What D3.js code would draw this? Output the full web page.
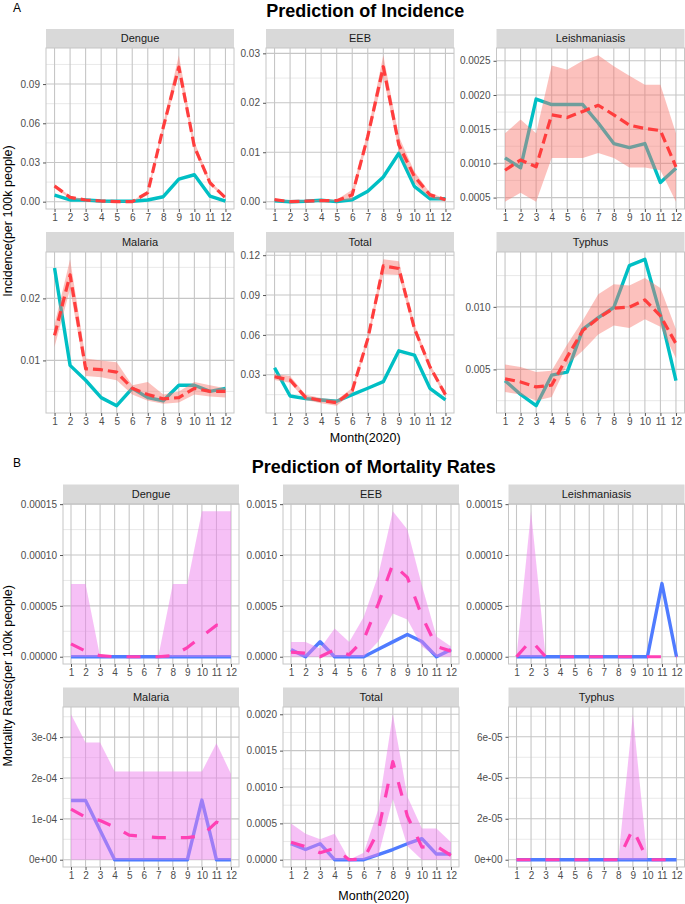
<!DOCTYPE html>
<html>
<head>
<meta charset="utf-8">
<script src="https://cdn.jsdelivr.net/npm/d3@7/dist/d3.min.js"></script>
<style>
body { margin: 0; background: #fff; }
svg { font-family: "Liberation Sans", Arial, sans-serif; }
</style>
</head>
<body>
<script>
var months = [1, 2, 3, 4, 5, 6, 7, 8, 9, 10, 11, 12];
var diseases = ["Dengue", "EEB", "Leishmaniasis", "Malaria", "Total", "Typhus"];

// incidence (panel A)
var incActual = {
  Dengue: [0.005, 0.0013, 0.0013, 0.0005, 0.0003, 0.0003, 0.0013, 0.0038, 0.0173, 0.0206, 0.0043, 0.0005],
  EEB: [0.0002, 0, 0.0001, 0.0003, 0, 0.0004, 0.0021, 0.005, 0.0098, 0.0031, 0.0006, 0.0006],
  Leishmaniasis: [0.00108, 0.000935, 0.00194, 0.00186, 0.00186, 0.00186, 0.00159, 0.00129, 0.00123, 0.00129, 0.00072, 0.00093],
  Malaria: [0.0249, 0.0092, 0.0068, 0.004, 0.0027, 0.0055, 0.004, 0.0035, 0.006, 0.006, 0.005, 0.0055],
  Total: [0.0353, 0.014, 0.012, 0.011, 0.010, 0.015, 0.0198, 0.0248, 0.048, 0.0448, 0.0198, 0.011],
  Typhus: [0.0041, 0.003, 0.0021, 0.00454, 0.00478, 0.0082, 0.00914, 0.00995, 0.0133, 0.0138, 0.0094, 0.0041]
};
var incPred = {
  Dengue: [0.012, 0.0033, 0.0013, 0.0005, 0, 0, 0.0069, 0.057, 0.103, 0.042, 0.0145, 0.003],
  EEB: [0.0004, 0, 0.0001, 0.0002, 0.0002, 0.0014, 0.0132, 0.0273, 0.0115, 0.0051, 0.0014, 0.0004],
  Leishmaniasis: [0.0009, 0.00105, 0.00095, 0.00171, 0.00167, 0.00176, 0.00185, 0.00171, 0.00156, 0.00151, 0.00148, 0.00095],
  Malaria: [0.01405, 0.0238, 0.00865, 0.0085, 0.0081, 0.0055, 0.0045, 0.0038, 0.004, 0.0055, 0.005, 0.005],
  Total: [0.0285, 0.026, 0.013, 0.0105, 0.009, 0.018, 0.057, 0.112, 0.110, 0.0649, 0.036, 0.015],
  Typhus: [0.00425, 0.004, 0.0036, 0.00374, 0.006, 0.0081, 0.0091, 0.0099, 0.00998, 0.01056, 0.00928, 0.00706]
};
var incLow = {
  Dengue: [0.0105, 0.0025, 0.0008, 0.0002, 0, 0, 0.005, 0.054, 0.098, 0.039, 0.013, 0.002],
  EEB: [0.0002, 0, 0, 0.0001, 0.0001, 0.0004, 0.0122, 0.0253, 0.0102, 0.0038, 0.0008, 0.0001],
  Leishmaniasis: [0.00044, 0.00057, 0.00044, 0.00108, 0.00108, 0.00108, 0.00115, 0.00108, 0.00094, 0.00094, 0.0009, 0.00044],
  Malaria: [0.0122, 0.0215, 0.0075, 0.0073, 0.0068, 0.0045, 0.0035, 0.003, 0.0032, 0.0045, 0.0042, 0.004],
  Total: [0.026, 0.024, 0.011, 0.0085, 0.0067, 0.016, 0.054, 0.1057, 0.105, 0.062, 0.034, 0.013],
  Typhus: [0.0032, 0.003, 0.0025, 0.0028, 0.0054, 0.0065, 0.0078, 0.0085, 0.0083, 0.009, 0.0084, 0.0059]
};
var incHigh = {
  Dengue: [0.0135, 0.0042, 0.0018, 0.0008, 0.0004, 0.0004, 0.0085, 0.060, 0.112, 0.046, 0.016, 0.004],
  EEB: [0.0006, 0.0002, 0.0003, 0.0004, 0.0004, 0.0024, 0.0142, 0.0296, 0.0132, 0.0061, 0.0018, 0.0006],
  Leishmaniasis: [0.00144, 0.00164, 0.00144, 0.00243, 0.00237, 0.0025, 0.00258, 0.00242, 0.00228, 0.00215, 0.00215, 0.00144],
  Malaria: [0.0158, 0.0263, 0.0103, 0.01, 0.0097, 0.006, 0.0065, 0.0045, 0.005, 0.0065, 0.006, 0.0055],
  Total: [0.0305, 0.029, 0.015, 0.0125, 0.011, 0.020, 0.060, 0.1169, 0.1155, 0.068, 0.038, 0.017],
  Typhus: [0.0054, 0.0052, 0.0048, 0.0049, 0.007, 0.0089, 0.011, 0.0118, 0.0117, 0.0123, 0.0115, 0.0082]
};
var incTicks = {
  Dengue: ["0.00", "0.03", "0.06", "0.09"],
  EEB: ["0.00", "0.01", "0.02", "0.03"],
  Leishmaniasis: ["0.0005", "0.0010", "0.0015", "0.0020", "0.0025"],
  Malaria: ["0.01", "0.02"],
  Total: ["0.03", "0.06", "0.09", "0.12"],
  Typhus: ["0.005", "0.010"]
};

// mortality (panel B)
var mortActual = {
  Dengue: [0, 0, 0, 0, 0, 0, 0, 0, 0, 0, 0, 0],
  EEB: [7e-5, 0, 1.47e-4, 0, 0, 0, 7.3e-5, 1.46e-4, 2.19e-4, 1.5e-4, 0, 7e-5],
  Leishmaniasis: [0, 0, 0, 0, 0, 0, 0, 0, 0, 0, 7.19e-5, 0],
  Malaria: [1.45e-4, 1.45e-4, 7.2e-5, 0, 0, 0, 0, 0, 0, 1.46e-4, 0, 0],
  Total: [2.2e-4, 1.4e-4, 2.2e-4, 0, 0, 0, 7e-5, 1.4e-4, 2.2e-4, 2.9e-4, 7.8e-5, 7.8e-5],
  Typhus: [0, 0, 0, 0, 0, 0, 0, 0, 0, 0, 0, 0]
};
var mortPred = {
  Dengue: [1.27e-5, 5.5e-6, 1e-6, 0, 0, 0, 0, 1e-6, 9e-6, 2.0e-5, 3.1e-5, 2.9e-5],
  EEB: [4.5e-5, 3.5e-5, 0, 7e-5, 2e-5, 1.7e-4, 5.2e-4, 9.1e-4, 7.8e-4, 4e-4, 1e-4, 5.5e-5],
  Leishmaniasis: [0, 1.6e-5, 0, 0, 0, 0, 0, 0, 0, 0, 0, 0],
  Malaria: [1.24e-4, 1.04e-4, 9.6e-5, 8e-5, 6e-5, 5.7e-5, 5.4e-5, 5.4e-5, 5.4e-5, 5.9e-5, 9.2e-5, 7.8e-5],
  Total: [2.4e-4, 1.8e-4, 9.6e-5, 1.55e-4, 0, 1e-5, 3.9e-4, 1.35e-3, 6e-4, 1.74e-4, 1.87e-4, 6e-5],
  Typhus: [0, 0, 0, 0, 0, 0, 0, 0, 1.5e-5, 0, 0, 0]
};
var mortLow = {
  Dengue: [0, 0, 0, 0, 0, 0, 0, 0, 0, 0, 0, 0],
  EEB: [0, 0, 0, 0, 0, 0, 1.5e-4, 4.25e-4, 3.66e-4, 1e-4, 0, 0],
  Leishmaniasis: [0, 0, 0, 0, 0, 0, 0, 0, 0, 0, 0, 0],
  Malaria: [0, 0, 0, 0, 0, 0, 0, 0, 0, 0, 0, 0],
  Total: [0, 0, 0, 0, 0, 0, 5e-5, 8.4e-4, 1.9e-4, 0, 0, 0],
  Typhus: [0, 0, 0, 0, 0, 0, 0, 0, 0, 0, 0, 0]
};
var mortHigh = {
  Dengue: [7.16e-5, 7.16e-5, 0, 0, 0, 0, 0, 7.16e-5, 7.16e-5, 1.43e-4, 1.43e-4, 1.43e-4],
  EEB: [1.44e-4, 1.44e-4, 8e-5, 2.78e-4, 1.44e-4, 3.9e-4, 8e-4, 1.43e-3, 1.25e-3, 7e-4, 2e-4, 1e-4],
  Leishmaniasis: [0, 1.43e-4, 0, 0, 0, 0, 0, 0, 0, 0, 0, 0],
  Malaria: [3.56e-4, 2.87e-4, 2.87e-4, 2.16e-4, 2.16e-4, 2.16e-4, 2.16e-4, 2.16e-4, 2.16e-4, 2.16e-4, 2.85e-4, 2.1e-4],
  Total: [4.98e-4, 3.56e-4, 2.8e-4, 3.56e-4, 0, 9.6e-5, 6.9e-4, 2.0e-3, 8.7e-4, 4.3e-4, 4.3e-4, 2.4e-4],
  Typhus: [0, 0, 0, 0, 0, 0, 0, 0, 7.1e-5, 0, 0, 0]
};
var mortTicks = {
  Dengue: ["0.00000", "0.00005", "0.00010", "0.00015"],
  EEB: ["0.0000", "0.0005", "0.0010", "0.0015"],
  Leishmaniasis: ["0.00000", "0.00005", "0.00010", "0.00015"],
  Malaria: ["0e+00", "1e-04", "2e-04", "3e-04"],
  Total: ["0.0000", "0.0005", "0.0010", "0.0015", "0.0020"],
  Typhus: ["0e+00", "2e-05", "4e-05", "6e-05"]
};

var svg = d3.select("body").append("svg").attr("width", 685).attr("height", 904);

drawSection({
  tag: "A", title: "Prediction of Incidence", tagY: 12, titleY: 17,
  lefts: [46, 266, 496.5], width: 188,
  rows: [{strip: 29, top: 48, bottom: 209}, {strip: 232, top: 252, bottom: 413}],
  xTitleY: 442, yTitle: "Incidence(per 100k people)",
  actual: incActual, pred: incPred, low: incLow, high: incHigh, ticks: incTicks,
  actualColor: "#00BFC4", predColor: "#FF3D3D", bandColor: "#F8766D", bandOpacity: 0.45, dash: "10,5"
});

drawSection({
  tag: "B", title: "Prediction of Mortality Rates", tagY: 467, titleY: 473,
  lefts: [63, 283, 508.5], width: 176,
  rows: [{strip: 484.5, top: 504, bottom: 664}, {strip: 687.5, top: 707, bottom: 867}],
  xTitleY: 900, yTitle: "Mortality Rates(per 100k people)",
  actual: mortActual, pred: mortPred, low: mortLow, high: mortHigh, ticks: mortTicks,
  actualColor: "#4F7BFF", predColor: "#FF40B4", bandColor: "#EE82EE", bandOpacity: 0.5, dash: "14,15"
});

function drawSection(s) {
  var g = svg.append("g");
  var cx = (s.lefts[0] + s.lefts[2] + s.width) / 2;

  g.append("text").attr("x", 13).attr("y", s.tagY)
    .style("font-size", "12px").text(s.tag);
  g.append("text").attr("x", cx).attr("y", s.titleY)
    .attr("text-anchor", "middle")
    .style("font-size", "18px").style("font-weight", "bold")
    .text(s.title);

  diseases.forEach(function(name, i) {
    var row = s.rows[Math.floor(i / 3)], left = s.lefts[i % 3];
    var p = g.append("g");

    var x = d3.scaleLinear().domain([0.45, 12.55]).range([left, left + s.width]);
    var all = [].concat(s.actual[name], s.pred[name], s.low[name], s.high[name]);
    var ext = d3.extent(all), pad = (ext[1] - ext[0]) * 0.05;
    var y = d3.scaleLinear().domain([ext[0] - pad, ext[1] + pad]).range([row.bottom, row.top]);

    var labels = s.ticks[name], vals = labels.map(Number);
    var stepv = vals[1] - vals[0], minor = [];
    for (var k = -1; k < vals.length; k++) {
      var m = vals[0] + (k + 0.5) * stepv;
      if (m > y.domain()[0] && m < y.domain()[1]) minor.push(m);
    }

    // strip
    p.append("rect").attr("x", left).attr("y", row.strip)
      .attr("width", s.width).attr("height", row.top - row.strip)
      .attr("fill", "#D9D9D9");
    p.append("text").attr("x", left + s.width / 2).attr("y", (row.strip + row.top) / 2)
      .attr("dy", "0.35em").attr("text-anchor", "middle")
      .style("font-size", "11px").attr("fill", "#1A1A1A").text(name);

    // panel + grid
    p.append("rect").attr("x", left).attr("y", row.top)
      .attr("width", s.width).attr("height", row.bottom - row.top)
      .attr("fill", "#fff");
    p.selectAll(".minor").data(minor).enter().append("line")
      .attr("x1", left).attr("x2", left + s.width)
      .attr("y1", function(d) { return y(d); }).attr("y2", function(d) { return y(d); })
      .attr("stroke", "#E3E3E3").attr("stroke-width", 0.8);
    p.selectAll(".major").data(vals).enter().append("line")
      .attr("x1", left).attr("x2", left + s.width)
      .attr("y1", function(d) { return y(d); }).attr("y2", function(d) { return y(d); })
      .attr("stroke", "#C6C6C6").attr("stroke-width", 1.1);
    p.selectAll(".vgrid").data(months).enter().append("line")
      .attr("x1", function(d) { return x(d); }).attr("x2", function(d) { return x(d); })
      .attr("y1", row.top).attr("y2", row.bottom)
      .attr("stroke", "#C6C6C6").attr("stroke-width", 1.1);

    var line = d3.line()
      .x(function(d, j) { return x(months[j]); })
      .y(function(d) { return y(d); });
    var band = d3.area()
      .x(function(d, j) { return x(months[j]); })
      .y0(function(d, j) { return y(s.low[name][j]); })
      .y1(function(d, j) { return y(s.high[name][j]); });

    p.append("path").attr("d", line(s.actual[name]))
      .attr("fill", "none").attr("stroke", s.actualColor)
      .attr("stroke-width", 3.4).attr("stroke-linejoin", "round");
    p.append("path").attr("d", band(s.high[name]))
      .attr("fill", s.bandColor).attr("fill-opacity", s.bandOpacity);
    p.append("path").attr("d", line(s.pred[name]))
      .attr("fill", "none").attr("stroke", s.predColor)
      .attr("stroke-width", 3.2).attr("stroke-dasharray", s.dash)
      .attr("stroke-linejoin", "round");

    p.append("rect").attr("x", left).attr("y", row.top)
      .attr("width", s.width).attr("height", row.bottom - row.top)
      .attr("fill", "none").attr("stroke", "#C6C6C6").attr("stroke-width", 1);

    // axes
    var ay = p.append("g").attr("transform", "translate(" + left + ",0)")
      .call(d3.axisLeft(y).tickValues(vals)
        .tickFormat(function(d, j) { return labels[j]; })
        .tickSize(3).tickSizeOuter(0).tickPadding(3));
    var ax = p.append("g").attr("transform", "translate(0," + row.bottom + ")")
      .call(d3.axisBottom(x).tickValues(months)
        .tickSize(3).tickSizeOuter(0).tickPadding(2));
    [ay, ax].forEach(function(a) {
      a.select(".domain").remove();
      a.selectAll(".tick line").attr("stroke", "#555");
      a.selectAll(".tick text").attr("fill", "#4D4D4D")
        .style("font-size", "10px").style("font-family", "Liberation Sans, Arial, sans-serif");
    });
  });

  g.append("text").attr("x", cx).attr("y", s.xTitleY)
    .attr("text-anchor", "middle").style("font-size", "12.5px").text("Month(2020)");
  var cy = (s.rows[0].strip + s.rows[1].bottom) / 2;
  g.append("text").attr("transform", "translate(12," + cy + ") rotate(-90)")
    .attr("text-anchor", "middle").style("font-size", "12.5px").text(s.yTitle);
}
</script>
</body>
</html>
